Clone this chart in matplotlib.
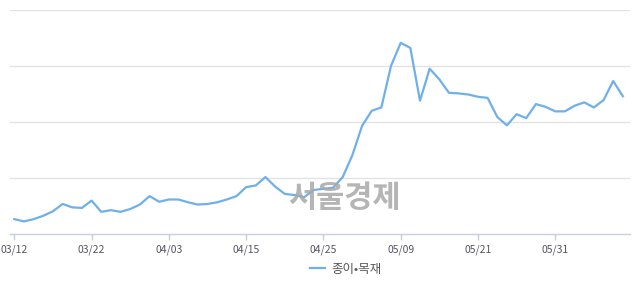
import matplotlib
matplotlib.use('Agg')
import matplotlib.pyplot as plt

# Trading days (2019) and index values
dates = ['03/12', '03/13', '03/14', '03/15', '03/18', '03/19', '03/20', '03/21', '03/22',
         '03/25', '03/26', '03/27', '03/28', '03/29', '04/01', '04/02', '04/03',
         '04/04', '04/05', '04/08', '04/09', '04/10', '04/11', '04/12', '04/15',
         '04/16', '04/17', '04/18', '04/19', '04/22', '04/23', '04/24', '04/25',
         '04/26', '04/29', '04/30', '05/02', '05/03', '05/07', '05/08', '05/09',
         '05/10', '05/13', '05/14', '05/15', '05/16', '05/17', '05/20', '05/21',
         '05/22', '05/23', '05/24', '05/27', '05/28', '05/29', '05/30', '05/31',
         '06/03', '06/04', '06/05', '06/07', '06/10', '06/11', '06/12']
values = [1027, 1023, 1027, 1033, 1041, 1054, 1048, 1047, 1060,
          1040, 1043, 1040, 1045, 1053, 1068, 1058, 1062,
          1062, 1057, 1053, 1054, 1057, 1062, 1068, 1084,
          1087, 1102, 1085, 1072, 1070, 1066, 1079, 1081,
          1083, 1102, 1141, 1193, 1220, 1226, 1300, 1341,
          1332, 1238, 1295, 1276, 1252, 1251, 1249, 1245,
          1243, 1209, 1194, 1214, 1207, 1232, 1227, 1219,
          1219, 1229, 1235, 1226, 1239, 1273, 1246]
tick_labels = ['03/12', '03/22', '04/03', '04/15', '04/25', '05/09', '05/21', '05/31']
series_name = '종이•목재'

kr = ['Noto Sans CJK KR', 'DejaVu Sans']

fig = plt.figure(figsize=(6.4, 2.94), dpi=100)
ax = fig.add_axes([10 / 640, 1 - 234.3 / 294, 620 / 640, (234.3 - 9.75) / 294])

x = list(range(len(values)))
line, = ax.plot(x, values, color='#6fb0ea', lw=1.6, solid_joinstyle='round', zorder=3)

ax.set_xlim(-0.445, 63.74)
ax.set_ylim(1000, 1400)
ax.set_yticks([1100, 1200, 1300, 1400])
ax.yaxis.grid(True, color='#e3e3e3', lw=1)
ax.set_axisbelow(True)
ax.tick_params(axis='y', left=False, labelleft=False)

ticks = [dates.index(t) for t in tick_labels]
ax.set_xticks(ticks)
ax.set_xticklabels(tick_labels, fontsize=7.5, color='#555566', family=kr)
ax.tick_params(axis='x', length=4, width=1, color='#c8d0e0', pad=3)

for s in ['top', 'right', 'left']:
    ax.spines[s].set_visible(False)
ax.spines['bottom'].set_color('#c8d0e0')
ax.spines['bottom'].set_linewidth(1)

# watermark
fig.text(344 / 640, 1 - 198 / 294, '서울경제', fontsize=22, fontweight='bold',
         color='#a8a8a8', alpha=0.85, ha='center', va='center', family=kr, zorder=10)

fig.legend([line], [series_name], loc='center', bbox_to_anchor=(346 / 640, 1 - 269 / 294),
           frameon=False, handlelength=1.2, handletextpad=0.5,
           prop={'family': kr, 'size': 9}, labelcolor='#555555')

fig.savefig('out.png', dpi=100)
